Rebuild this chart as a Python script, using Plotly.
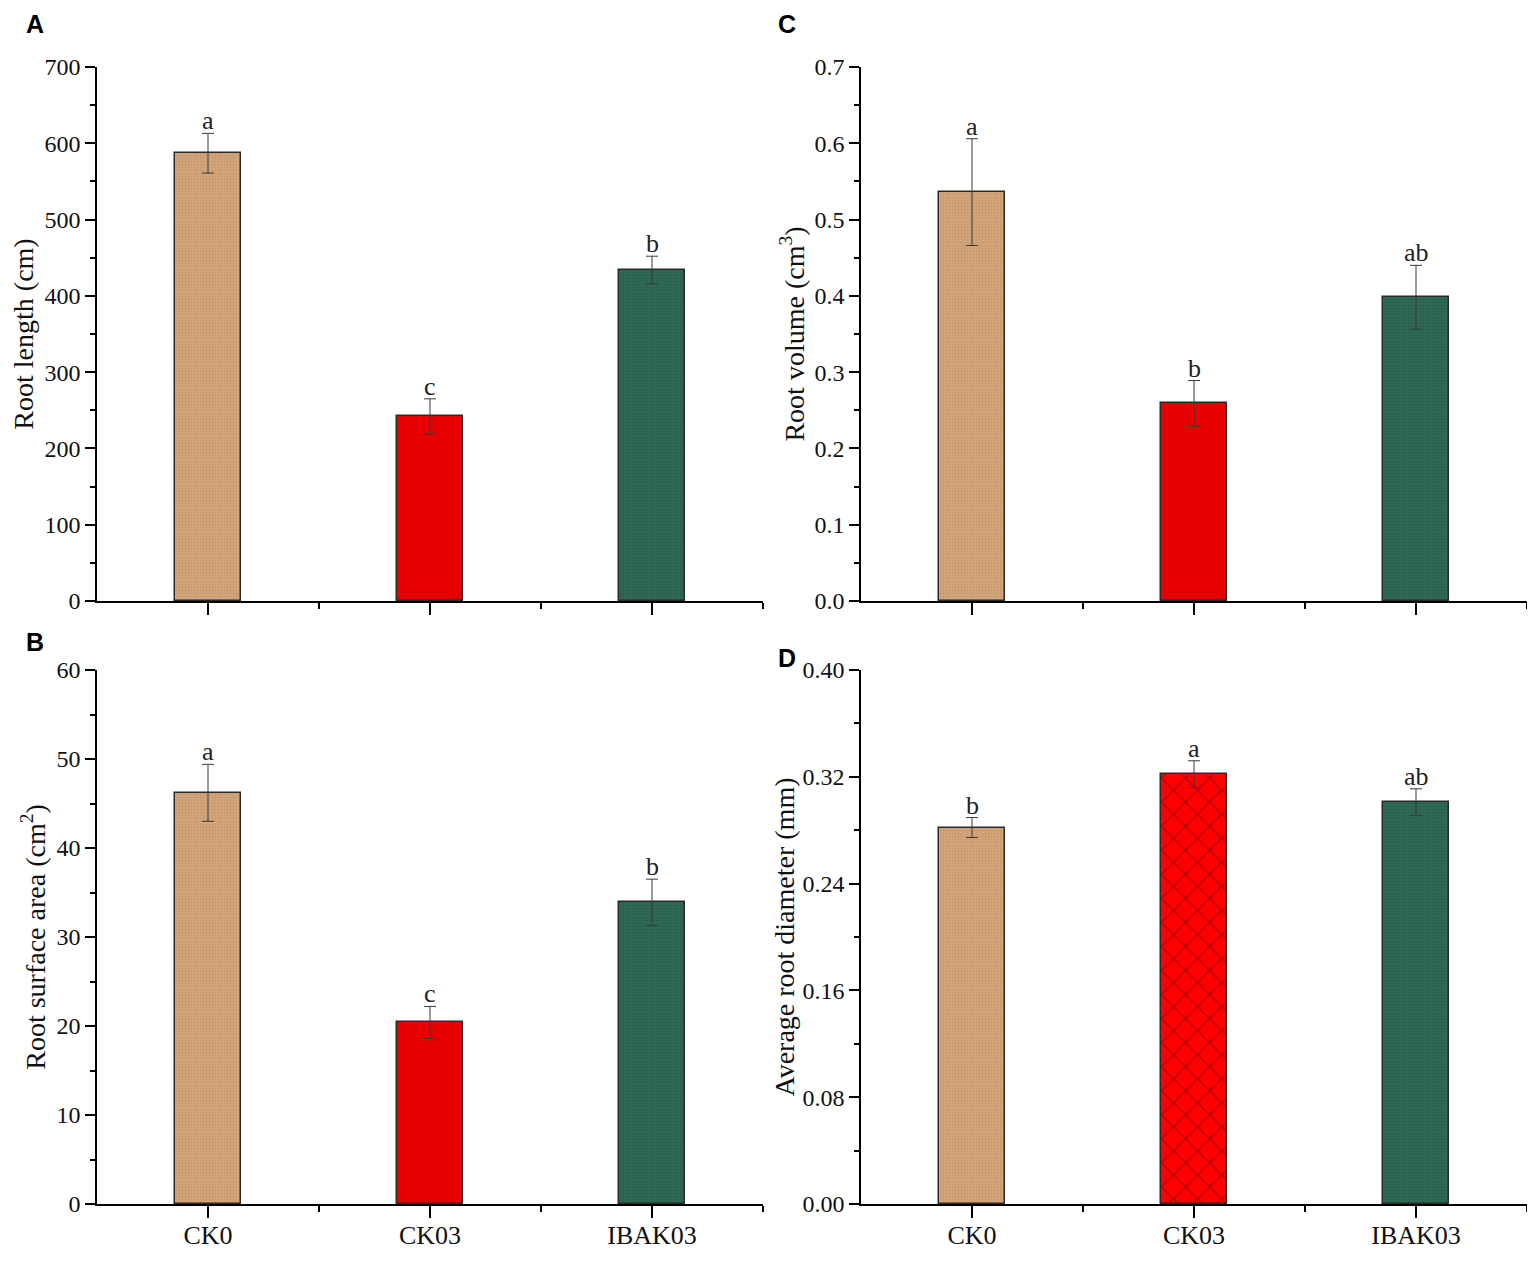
import plotly.graph_objects as go
from plotly.subplots import make_subplots

# treatments
groups = ["CK0", "CK03", "IBAK03"]

# panel A: root length (cm)
length_mean = [587, 242, 434]
length_err = [26, 23, 18]
length_sig = ["a", "c", "b"]

# panel C: root volume (cm3)
volume_mean = [0.536, 0.259, 0.398]
volume_err = [0.070, 0.030, 0.042]
volume_sig = ["a", "b", "ab"]

# panel B: root surface area (cm2)
area_mean = [46.2, 20.4, 33.9]
area_err = [3.2, 1.8, 2.6]
area_sig = ["a", "c", "b"]

# panel D: average root diameter (mm)
diam_mean = [0.282, 0.322, 0.301]
diam_err = [0.0075, 0.010, 0.010]
diam_sig = ["b", "a", "ab"]

TAN = "#D3A47A"
RED = "#E60000"
GREEN = "#2E6A55"
SERIF = "Liberation Serif"
W, H = 1535, 1264
OFF = 8  # page body margin


def px_x(v):
    return (v - OFF) / W


def px_y(v):
    return 1 - (v - OFF) / H


fig = make_subplots(rows=2, cols=2)

panels = [
    # row, col, means, errs, letters, y range, dtick, minor dtick, title, tickformat, title standoff
    (1, 1, length_mean, length_err, length_sig, [0, 700], 100, 50, "Root length (cm)", None, 3),
    (1, 2, volume_mean, volume_err, volume_sig, [0, 0.7], 0.1, 0.05, "Root volume (cm<sup>3</sup>)", ".1f", 2),
    (2, 1, area_mean, area_err, area_sig, [0, 60], 10, 5, "Root surface area (cm<sup>2</sup>)", None, 3),
    (2, 2, diam_mean, diam_err, diam_sig, [0, 0.4], 0.08, 0.04, "Average root diameter (mm)", ".2f", 0),
]

xpos = [0, 1, 2]

for row, col, means, errs, sig, yr, dt, mdt, title, fmt, so in panels:
    crossed = (row == 2 and col == 2)
    red_pattern = dict(shape="x", fgcolor="#4a0000", bgcolor="#FF0000", size=17, solidity=0.13) if crossed \
        else dict(shape="")
    patterns = [
        dict(shape=".", fgcolor="#B98A5E", bgcolor=TAN, size=3, solidity=0.3),
        red_pattern,
        dict(shape=".", fgcolor="#1F4D3D", bgcolor=GREEN, size=3, solidity=0.3),
    ]
    colors = [TAN, "#FF0000" if crossed else RED, GREEN]
    for i in range(3):
        fig.add_trace(go.Bar(
            x=[xpos[i]], y=[means[i]], width=0.3,
            marker=dict(color=colors[i], pattern=patterns[i],
                        line=dict(color="#2a2a2a", width=1.5)),
            error_y=dict(type="data", array=[errs[i]], color="#3a3a3a",
                         thickness=1, width=6),
            showlegend=False,
        ), row=row, col=col)
        fig.add_annotation(
            x=xpos[i], y=means[i] + errs[i], text=sig[i], showarrow=False,
            yanchor="bottom", yshift=-4,
            font=dict(family=SERIF, size=26, color="#222"),
            row=row, col=col)

    fig.update_yaxes(
        range=yr, dtick=dt, tick0=0, tickformat=fmt, automargin=False,
        showline=True, linecolor="black", linewidth=1.5,
        ticks="outside", ticklen=10, tickwidth=1.5, tickcolor="black",
        minor=dict(ticks="outside", dtick=mdt, tick0=0, ticklen=5,
                   tickwidth=1.5, tickcolor="black"),
        showgrid=False, zeroline=False,
        tickfont=dict(family=SERIF, size=24, color="#111"),
        title=dict(text=title, font=dict(family=SERIF, size=28, color="#111"), standoff=so),
        row=row, col=col)
    fig.update_xaxes(
        range=[-0.5, 2.5], tickmode="array", tickvals=xpos, ticktext=groups,
        showticklabels=(row == 2), automargin=False, ticklabelstandoff=-5,
        showline=True, linecolor="black", linewidth=1.5,
        ticks="outside", ticklen=12, tickwidth=1.5, tickcolor="black",
        minor=dict(ticks="outside", tickvals=[0.5, 1.5, 2.5], ticklen=6,
                   tickwidth=1.5, tickcolor="black"),
        showgrid=False, zeroline=False,
        tickfont=dict(family=SERIF, size=26, color="#111"),
        row=row, col=col)

# manual panel placement (reference pixel positions)
left = [px_x(97), px_x(763)]
right = [px_x(861), px_x(1527)]
top = [px_y(601), px_y(67)]
bottom = [px_y(1204), px_y(670)]
fig.update_layout(
    xaxis=dict(domain=left), yaxis=dict(domain=top),
    xaxis2=dict(domain=right), yaxis2=dict(domain=top),
    xaxis3=dict(domain=left), yaxis3=dict(domain=bottom),
    xaxis4=dict(domain=right), yaxis4=dict(domain=bottom),
)

# panel letters; A and C pinned to the top edge so they are not clipped
for letter, lx, ly in [("A", 35, None), ("C", 787, None), ("B", 35, 642), ("D", 787, 658)]:
    fig.add_annotation(
        x=px_x(lx), y=1 if ly is None else px_y(ly), xref="paper", yref="paper",
        text="<b>%s</b>" % letter, showarrow=False,
        xanchor="center", yanchor="top" if ly is None else "middle",
        font=dict(family="Liberation Sans", size=25, color="black"))

fig.update_layout(
    width=W, height=H,
    margin=dict(l=0, r=0, t=0, b=0),
    plot_bgcolor="white", paper_bgcolor="white",
    bargap=0,
)

fig.write_html("out.html")
